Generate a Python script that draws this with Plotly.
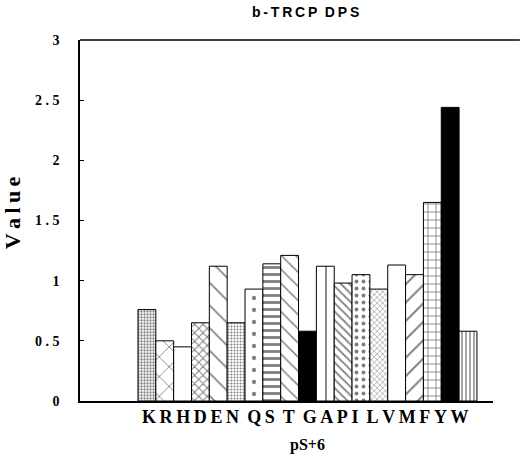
import plotly.graph_objects as go

residues = ["K", "R", "H", "D", "E", "N", "Q", "S", "T", "G",
            "A", "P", "I", "L", "V", "M", "F", "Y", "W"]
values = [0.76, 0.50, 0.45, 0.65, 1.12, 0.65, 0.93, 1.14, 1.21, 0.58,
          1.12, 0.98, 1.05, 0.93, 1.13, 1.05, 1.65, 2.44, 0.58]
ytick_vals = [0, 0.5, 1, 1.5, 2, 2.5, 3]
ytick_text = ["0", "0 . 5", "1", "1 . 5", "2", "2 . 5", "3"]
xlabel_groups = ["KRHDEN", "QS", "T", "GAPI", "LVMFYW"]
title_words = ["b-TRCP", "DPS"]
xtitle_text = "pS+6"
ytitle_text = "Value"

thin = "\u2009"
xlabel_text = (" " + thin).join(thin.join(g) for g in xlabel_groups)
ytitle_spaced = thin.join(ytitle_text)
title_text = "  ".join(thin.join(w) for w in title_words)

SERIF = "Liberation Serif, Times New Roman, serif"

# pattern styles per bar: (shape, size, solidity, fillcolor)
styles = [
    (".", 3, 0.45, "white"),   # K stipple
    ("x", 14, 0.12, "white"),  # R
    ("", 8, 0.2, "white"),     # H
    ("x", 6, 0.3, "white"),    # D
    ("\\", 16, 0.1, "white"),  # E
    (".", 3, 0.35, "white"),   # N
    (".", 12, 0.1, "white"),   # Q
    ("-", 7, 0.4, "white"),    # S
    ("\\", 10, 0.15, "white"), # T
    ("", 8, 0.2, "black"),     # G
    ("|", 12, 0.15, "white"),  # A
    ("\\", 6, 0.3, "white"),   # P
    (".", 7, 0.25, "white"),   # I
    ("x", 4, 0.25, "white"),   # L
    ("", 8, 0.2, "white"),     # V
    ("/", 13, 0.15, "white"),  # M
    ("+", 8, 0.2, "white"),    # F
    ("", 8, 0.2, "black"),     # Y
    ("|", 4, 0.35, "white"),   # W
]

fig = go.Figure()
for i, (res, v) in enumerate(zip(residues, values)):
    shp, sz, sol, bg = styles[i]
    fig.add_trace(go.Bar(
        x=[i], y=[v], width=1, name=res,
        marker=dict(color=bg, line=dict(color="black", width=1),
                    pattern=dict(shape=shp, size=sz, solidity=sol,
                                 fgcolor="black", bgcolor=bg)),
        showlegend=False, hoverinfo="skip",
    ))

fig.update_layout(
    width=523, height=454,
    margin=dict(l=80, r=30, t=40, b=53),
    paper_bgcolor="white", plot_bgcolor="white",
    barmode="overlay",
    xaxis=dict(range=[-3.75, 19.4], showticklabels=False, ticks="",
               showgrid=False, zeroline=False, showline=True,
               linecolor="black", linewidth=1.5),
    yaxis=dict(range=[0, 3], tickvals=ytick_vals, ticktext=ytick_text,
               ticks="inside", ticklen=4, tickcolor="black",
               ticklabelstandoff=16,
               showgrid=False, zeroline=False, showline=True,
               linecolor="black", linewidth=1.5,
               tickfont=dict(family=SERIF, size=14, color="black",
                             weight="bold")),
    shapes=[dict(type="line", xref="paper", yref="paper", x0=0, x1=1.065,
                 y0=1, y1=1, line=dict(color="black", width=1.5))],
    annotations=[
        dict(text=title_text, xref="x", yref="paper", x=8.9, y=1.0,
             yshift=28, showarrow=False, xanchor="center", yanchor="middle",
             font=dict(family="Liberation Sans, Arial, sans-serif", size=14,
                       color="black", weight="bold")),
        dict(text=xlabel_text, xref="x", yref="paper", x=8.9, y=0,
             yshift=-16, showarrow=False, xanchor="center", yanchor="middle",
             font=dict(family=SERIF, size=18, color="black", weight="bold")),
        dict(text=xtitle_text, xref="x", yref="paper", x=9.0, y=0,
             yshift=-44, showarrow=False, xanchor="center", yanchor="middle",
             font=dict(family=SERIF, size=16, color="black", weight="bold")),
        dict(text=ytitle_spaced, xref="paper", yref="paper", x=0, y=0.52,
             xshift=-68, showarrow=False, textangle=-90,
             xanchor="center", yanchor="middle",
             font=dict(family=SERIF, size=22, color="black", weight="bold")),
    ],
)

fig.write_html("out.html",
               config={"displayModeBar": False},
               post_script="document.body.style.margin='0';")
